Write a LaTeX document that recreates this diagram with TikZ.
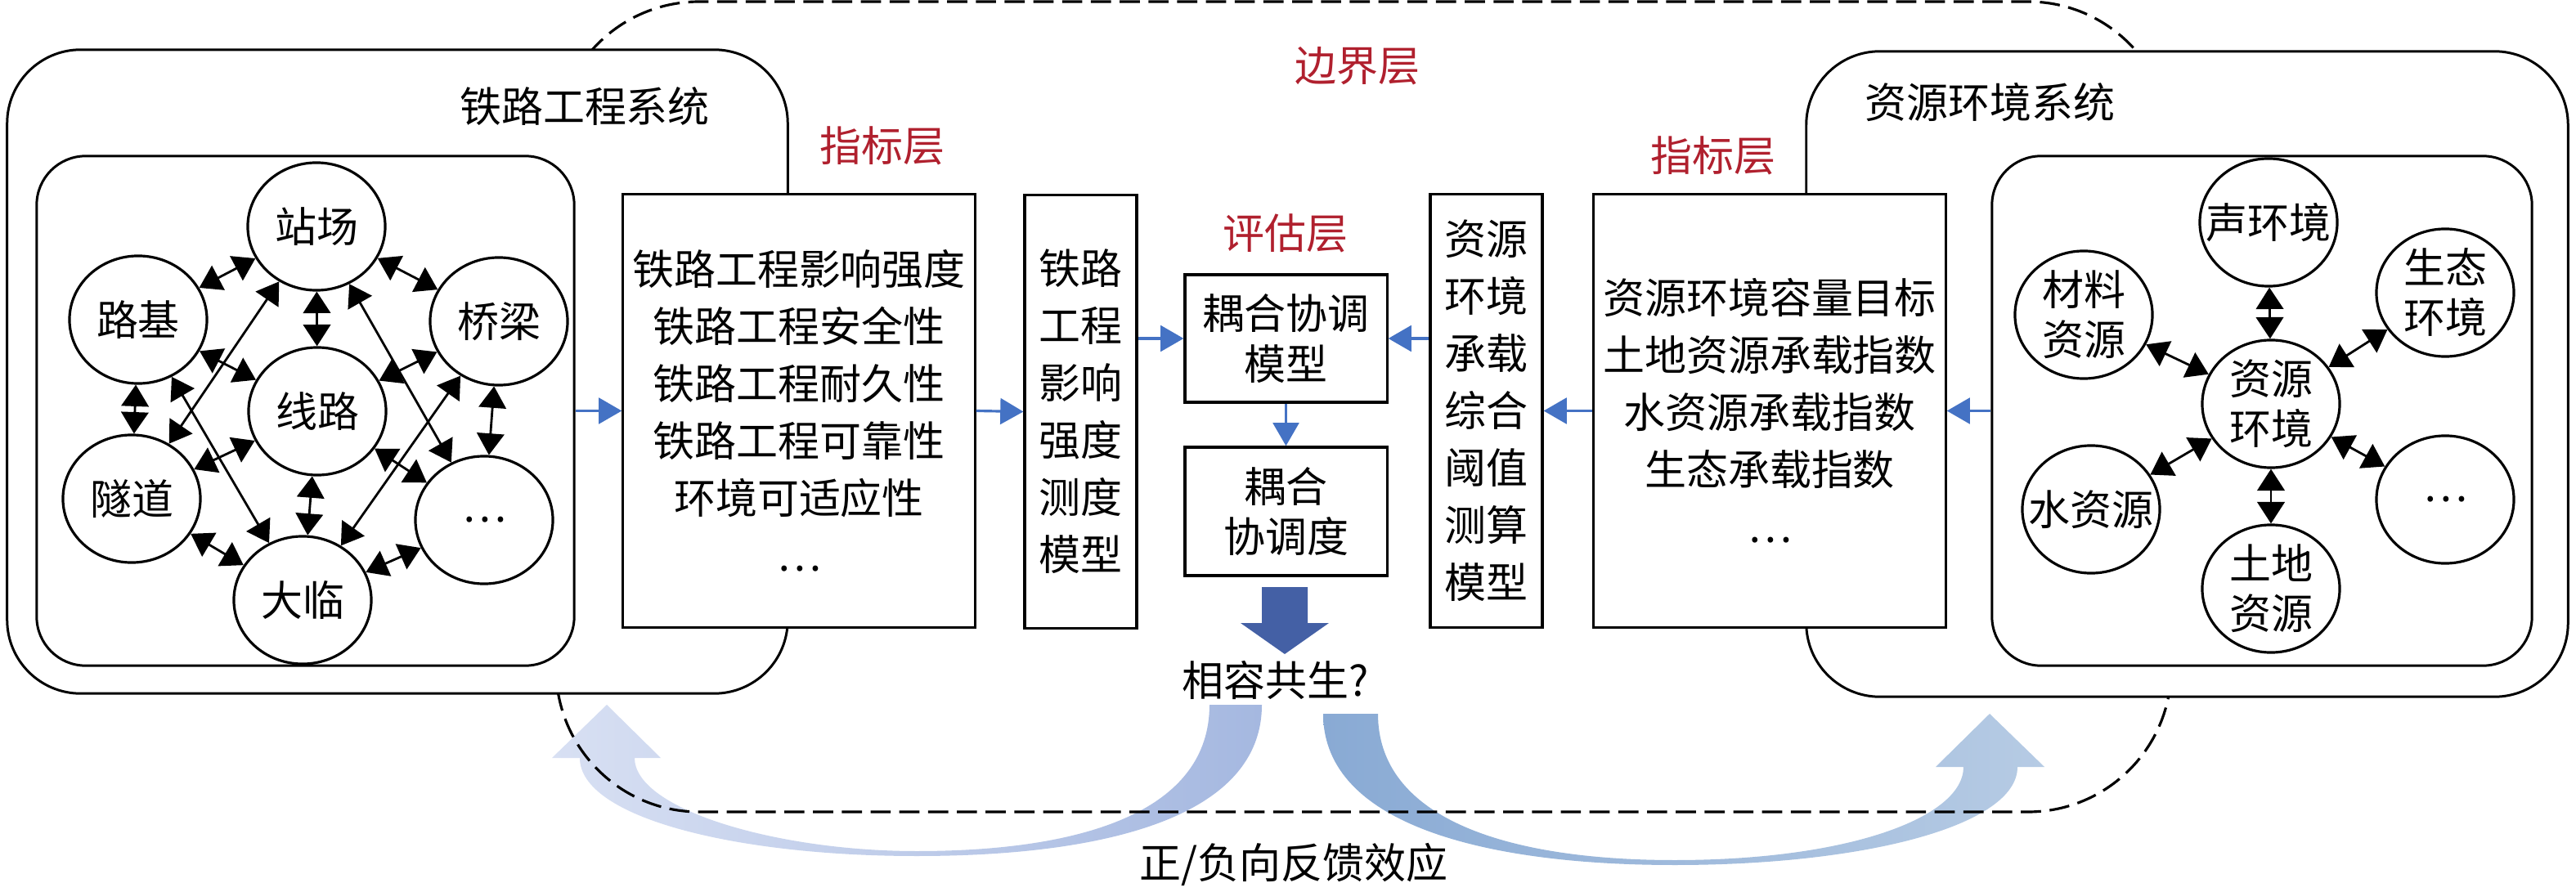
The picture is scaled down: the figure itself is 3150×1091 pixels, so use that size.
\documentclass[tikz,border=0pt]{standalone}
\usepackage{fontspec}
\setmainfont{Noto Sans CJK SC}
\usetikzlibrary{arrows.meta,shapes.geometric}
\definecolor{lblue}{RGB}{68,114,196}
\definecolor{dred}{RGB}{176,32,46}
\definecolor{bigblue}{RGB}{68,96,165}
\definecolor{fbA}{RGB}{216,224,243}
\definecolor{fbB}{RGB}{165,184,224}
\definecolor{fbC}{RGB}{137,170,212}
\definecolor{fbD}{RGB}{182,203,228}
\newcommand\bfnt{\fontsize{14.5pt}{19.9pt}\selectfont}
\newcommand\cfnt{\fontsize{14.5pt}{17.4pt}\selectfont}
\begin{document}
\begin{tikzpicture}[x=0.01cm,y=-0.01cm,
  sysbox/.style={draw,line width=0.85pt,fill=white,rounded corners=0.9cm,inner sep=0pt},
  innerbox/.style={draw,line width=0.85pt,fill=white,rounded corners=0.6cm,inner sep=0pt},
  bub/.style={ellipse,draw,line width=0.9pt,fill=white,minimum width=1.68cm,minimum height=1.56cm,inner sep=0pt,
    label={[font=\cfnt,align=center]center:#1}},
  tallbox/.style={draw,line width=0.9pt,fill=white,minimum height=5.29cm,inner sep=0pt,align=center,font=\bfnt},
  evbox/.style={draw,line width=0.9pt,fill=white,minimum width=2.47cm,minimum height=1.56cm,inner sep=0pt,align=center,font=\cfnt},
  link/.style={{Triangle[length=7.5pt,width=9.5pt]}-{Triangle[length=7.5pt,width=9.5pt]},line width=0.8pt},
  flow/.style={-{Triangle[length=8pt,width=9pt]},draw=lblue,line width=0.9pt},
  redlbl/.style={text=dred,font=\bfnt},
  lbl/.style={font=\bfnt},
  bound/.style={draw,line width=0.9pt,dash pattern=on 7pt off 3pt,rounded corners=1.75cm}
]
\useasboundingbox (0,0) rectangle (3150,1091);
\fill[white] (0,0) rectangle (3150,1091);

% feedback bands
\shade[left color=fbA,right color=fbB] (1543,862) .. controls (1543,1000) and (1350,1047) .. (1121,1047)
  .. controls (900,1047) and (709,1000) .. (709,927) -- (675,927) -- (742,862) -- (808,927) -- (776,927)
  .. controls (776,990) and (950,1041) .. (1121,1041) .. controls (1330,1041) and (1479,990) .. (1479,862) -- cycle;
\shade[left color=fbC,right color=fbD] (1618,873) .. controls (1618,1010) and (1820,1058) .. (2048,1058)
  .. controls (2280,1058) and (2467,1010) .. (2467,938) -- (2500,938) -- (2433,873) -- (2367,938) -- (2401,938)
  .. controls (2401,1000) and (2260,1052) .. (2048,1052) .. controls (1840,1052) and (1685,1000) .. (1685,873) -- cycle;

% boundary layer
\draw[bound] (680,2) rectangle (2655,993);

% systems
\node[sysbox,minimum width=9.54cm,minimum height=7.87cm] (lsysbox) at (486,454.5) {};
\node[sysbox,minimum width=9.31cm,minimum height=7.89cm] (rsysbox) at (2674.5,457.5) {};
\node[innerbox,minimum width=6.57cm,minimum height=6.23cm] (lin) at (373.5,502.5) {};
\node[innerbox,minimum width=6.60cm,minimum height=6.23cm] (rin) at (2766,502.5) {};

\node[lbl] (lsys) at (715,130) {铁路工程系统};
\node[lbl] (rsys) at (2433,125) {资源环境系统};
\node[redlbl] (bj) at (1660,81) {边界层};
\node[redlbl] (zb1) at (1079,178) {指标层};
\node[redlbl] (zb2) at (2095,190) {指标层};
\node[redlbl] (pg) at (1572,285) {评估层};

% boxes
\node[tallbox,minimum width=4.30cm] (lind) at (977,502.5) {铁路工程影响强度\\铁路工程安全性\\铁路工程耐久性\\铁路工程可靠性\\环境可适应性\\…};
\node[tallbox,minimum width=1.37cm] (lmod) at (1321.5,503.5) {铁路\\工程\\影响\\强度\\测度\\模型};
\node[evbox] (cmod) at (1572.5,414) {耦合协调\\模型};
\node[evbox,minimum height=1.57cm] (cdeg) at (1572.5,625.5) {耦合\\协调度};
\node[tallbox,minimum width=1.37cm] (rmod) at (1817.5,502.5) {资源\\环境\\承载\\综合\\阈值\\测算\\模型};
\node[tallbox,minimum width=4.30cm] (rind) at (2164,502.5) {资源环境容量目标\\土地资源承载指数\\水资源承载指数\\生态承载指数\\…};

\draw[flow] (lin.east) -- (lind.west);
\draw[flow] (lind.east) -- (lmod.west);
\draw[flow] (lmod.east |- cmod.west) -- (cmod.west);
\draw[flow] (rmod.west |- cmod.east) -- (cmod.east);
\draw[flow] (cmod.south) -- (cdeg.north);
\draw[flow] (rind.west) -- (rmod.east);
\draw[flow] (rin.west) -- (rind.east);

% big arrow
\fill[bigblue] (1543,718) -- (1599,718) -- (1599,762) -- (1625,762) -- (1571,800) -- (1517,762) -- (1543,762) -- cycle;
\node[lbl] (xr) at (1560,832) {相容共生?};
\node[lbl] (fk) at (1582,1057) {正/负向反馈效应};

% left network
\node[bub={站场}] (zc) at (387,277) {};
\node[bub={路基}] (lj) at (169,391) {};
\node[bub={桥梁}] (ql) at (610,393) {};
\node[bub={线路}] (xl) at (388,503) {};
\node[bub={隧道}] (sd) at (161,610) {};
\node[bub={…}] (ld) at (592,636) {};
\node[bub={大临}] (dl) at (370,734) {};
\foreach \a/\b in {zc/lj,zc/ql,zc/xl,zc/sd,zc/ld,lj/xl,lj/sd,lj/dl,ql/xl,ql/ld,ql/dl,xl/sd,xl/dl,xl/ld,sd/dl,dl/ld}
  \draw[link] (\a) -- (\b);

% right network
\node[bub={声环境}] (sh) at (2774,272) {};
\node[bub={材料\\资源}] (cl) at (2548,385) {};
\node[bub={生态\\环境}] (st) at (2990,358) {};
\node[bub={资源\\环境}] (zy) at (2777,494) {};
\node[bub={水资源}] (ss) at (2557,623) {};
\node[bub={…}] (rd) at (2990,611) {};
\node[bub={土地\\资源}] (td) at (2777,720) {};
\foreach \b in {sh,cl,st,ss,rd,td}
  \draw[link] (zy) -- (\b);
\end{tikzpicture}
\end{document}
